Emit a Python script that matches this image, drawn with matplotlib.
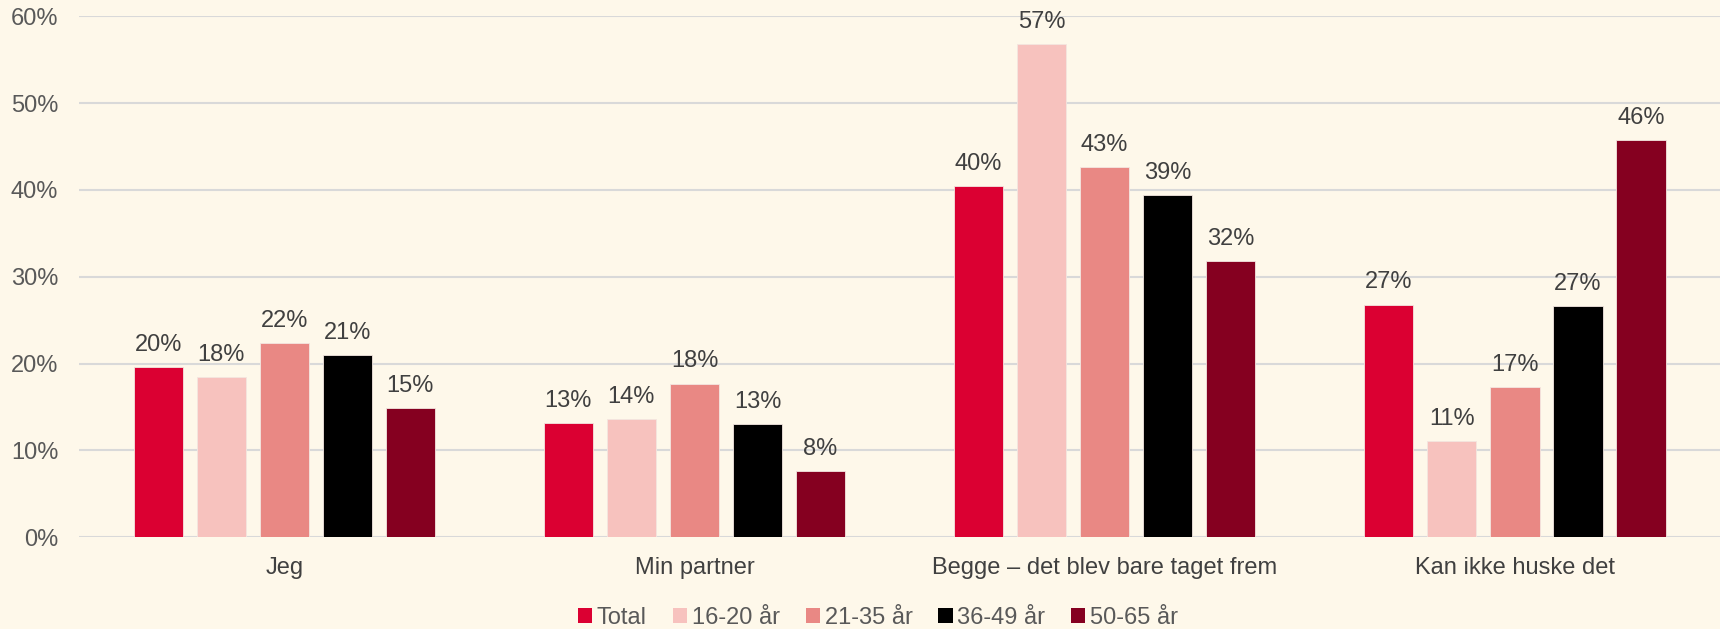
import matplotlib
matplotlib.use("Agg")
import matplotlib.pyplot as plt
from matplotlib.patches import Patch
import numpy as np

categories = ["Jeg", "Min partner", "Begge – det blev bare taget frem", "Kan ikke huske det"]
series_names = ["Total", "16-20 år", "21-35 år", "36-49 år", "50-65 år"]
total = [19.6, 13.2, 40.4, 26.8]
age_16_20 = [18.4, 13.6, 56.8, 11.1]
age_21_35 = [22.4, 17.7, 42.6, 17.3]
age_36_49 = [21.0, 13.0, 39.4, 26.6]
age_50_65 = [14.9, 7.6, 31.8, 45.8]
yticks = [0, 10, 20, 30, 40, 50, 60]

series = [total, age_16_20, age_21_35, age_36_49, age_50_65]
colors = ["#DB0032", "#F7C2BE", "#E98884", "#000000", "#850020"]

plt.rcParams['font.family'] = ['Liberation Sans', 'DejaVu Sans']
FS = 17
bg = "#FEF8EA"
fig = plt.figure(figsize=(17.2, 6.29), dpi=100, facecolor=bg)
ax = fig.add_axes([0.046, 0.146, 0.954, 0.828], facecolor=bg)

x = np.arange(len(categories))
step = 0.1537
width = 0.120
for i, (vals, c) in enumerate(zip(series, colors)):
    pos = x + (i - 2) * step
    ax.bar(pos, vals, width=width, color=c, edgecolor="#F3E6E0", linewidth=0.6,
           zorder=3, label=series_names[i])
    for p, v in zip(pos, vals):
        ax.text(p, v + 1.85, f"{round(v):d}%", ha="center", va="baseline",
                fontsize=FS, color="#404040", zorder=4)

ax.set_ylim(0, 60)
ax.set_xlim(-0.5, len(categories) - 0.5)
ax.set_yticks(yticks)
ax.set_yticklabels([f"{t}%" for t in yticks], fontsize=FS, color="#595959")
ax.set_xticks(x)
ax.set_xticklabels(categories, fontsize=FS, color="#404040")
ax.tick_params(axis="x", length=0, pad=14)
ax.tick_params(axis="y", length=0, pad=15)
for s in ax.spines.values():
    s.set_visible(False)
ax.grid(axis="y", color="#D9D9D9", linewidth=1.5, zorder=0)
ax.set_axisbelow(True)

handles = [Patch(facecolor=c, edgecolor="none") for c in colors]
leg = fig.legend(handles, series_names, loc="center", bbox_to_anchor=(0.5105, 0.0175),
                 ncol=5, frameon=False, fontsize=FS, handlelength=0.6, handleheight=0.6,
                 handletextpad=0.2, columnspacing=1.1, labelcolor="#595959")

fig.savefig("out.png", dpi=100, facecolor=bg)
